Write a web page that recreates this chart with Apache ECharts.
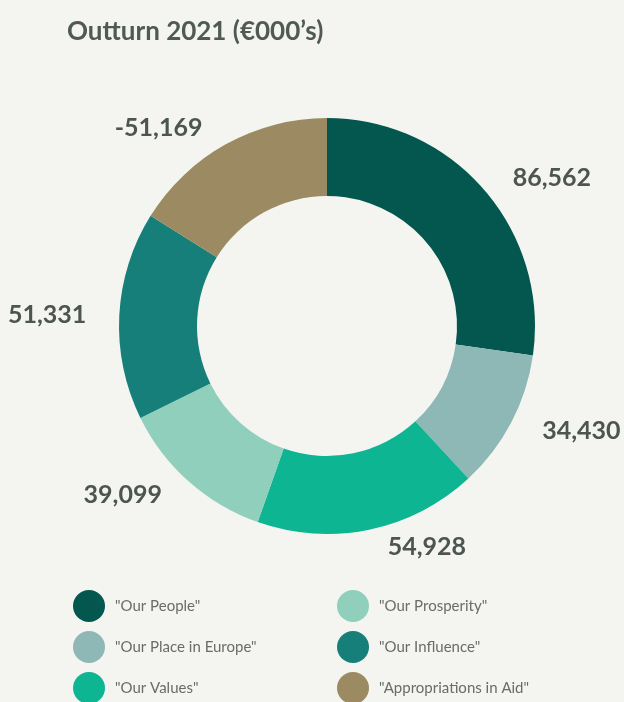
<!DOCTYPE html>
<html>
<head>
<meta charset="utf-8">
<script src="https://cdn.jsdelivr.net/npm/echarts@6/dist/echarts.min.js"></script>
<style>
  html, body { margin: 0; padding: 0; background: #f4f4f0; }
  #chart { width: 624px; height: 702px; }
</style>
</head>
<body>
<div id="chart"></div>
<script>
// data
const categories = ['"Our People"', '"Our Place in Europe"', '"Our Values"', '"Our Prosperity"', '"Our Influence"', '"Appropriations in Aid"']
const values = [86562, 34430, 54928, 39099, 51331, -51169]
const colors = ['#03574f', '#8db8b6', '#0db592', '#91cfbd', '#177f79', '#9c8a62']

const chart = echarts.init(document.getElementById('chart'))

// slice size from the magnitude, label keeps the sign
const pieData = categories.map((name, i) => ({
  name: name,
  value: Math.abs(values[i]),
  raw: values[i],
  itemStyle: { color: colors[i] }
}))

const legendBase = {
  orient: 'vertical',
  top: 590,
  height: 200,
  padding: 0,
  icon: 'circle',
  itemWidth: 32,
  itemHeight: 32,
  itemGap: 9,
  textStyle: {
    fontFamily: 'Lato',
    fontSize: 15,
    color: '#686c6a',
    padding: [0, 0, 0, 5]
  }
}

const option = {
  backgroundColor: '#f4f4f0',
  animation: false,
  title: {
    text: 'Outturn 2021 (€000’s)',
    left: 62,
    top: 14,
    textStyle: {
      fontFamily: 'Lato',
      fontWeight: 'bold',
      fontSize: 26,
      color: '#4f5a55'
    }
  },
  legend: [
    Object.assign({}, legendBase, { left: 73, data: categories.slice(0, 3) }),
    Object.assign({}, legendBase, { left: 337, data: categories.slice(3) })
  ],
  series: [
    {
      type: 'pie',
      center: [327, 326],
      radius: [130, 208],
      startAngle: 90,
      clockwise: true,
      avoidLabelOverlap: false,
      label: {
        show: true,
        position: 'outside',
        fontFamily: 'Lato',
        fontWeight: 'bold',
        fontSize: 25,
        color: '#4c5551',
        formatter: (p) => p.data.raw.toLocaleString('en-US')
      },
      labelLine: {
        show: false,
        length: 18,
        length2: 10
      },
      data: pieData
    }
  ]
}

chart.setOption(option)
window.addEventListener('resize', () => chart.resize())
</script>
</body>
</html>
